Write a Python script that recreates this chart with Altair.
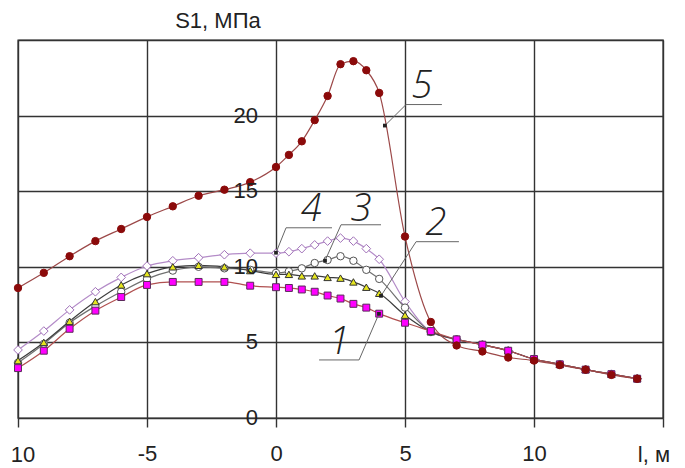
import altair as alt
import pandas as pd

# ---- data ----
x_pos = [-10, -9, -8, -7, -6, -5, -4, -3, -2, -1, 0, 0.5, 1, 1.5, 2, 2.5, 3, 3.5, 4,
         5, 6, 7, 8, 9, 10, 11, 12, 13, 14]
s1 = [3.3, 4.45, 5.9, 7.1, 8.0, 8.8, 9.0, 9.0, 9.0, 8.75, 8.65, 8.6, 8.5, 8.35, 8.1, 7.9, 7.55, 7.3, 6.9,
      6.3, 5.75, 5.2, 4.85, 4.45, 3.9, 3.55, 3.2, 2.9, 2.6]
s2 = [3.8, 5.0, 6.4, 7.7, 8.8, 9.55, 10.0, 10.1, 10.0, 9.75, 9.5, 9.5, 9.4, 9.4, 9.3, 9.25, 9.0, 8.65, 8.25,
      6.8, 5.7, 5.2, 4.85, 4.45, 3.9, 3.55, 3.2, 2.9, 2.6]
s3 = [3.65, 4.9, 6.3, 7.4, 8.35, 9.2, 9.75, 10.0, 9.9, 9.8, 9.6, 9.7, 9.9, 10.25, 10.45, 10.7, 10.4, 9.8, 9.2,
      7.3, 5.7, 5.2, 4.85, 4.45, 3.9, 3.55, 3.2, 2.9, 2.6]
s4 = [4.5, 5.75, 7.15, 8.35, 9.3, 10.05, 10.4, 10.6, 10.8, 10.9, 10.9, 11.0, 11.2, 11.45, 11.7, 11.9, 11.7, 11.2, 10.5,
      7.7, 5.7, 5.2, 4.85, 4.45, 3.9, 3.55, 3.2, 2.9, 2.6]
s5 = [8.6, 9.6, 10.7, 11.7, 12.5, 13.3, 14.0, 14.7, 15.1, 15.6, 16.6, 17.4, 18.3, 19.7, 21.3, 23.4, 23.6, 23.0, 21.5,
      12.0, 6.35, 4.8, 4.4, 4.0, 3.8, 3.5, 3.2, 2.85, 2.6]

x_ticks = [-10, -5, 0, 5, 10, 15]
y_ticks = [0, 5, 10, 15, 20, 25]
y_labels = [0, 5, 10, 15, 20]

# callout labels: name, text position, corner of leader, end of underline, point on curve
callout_names = ["5", "4", "3", "2", "1"]
callout_tx = [5.66, 1.36, 3.29, 6.2, 2.45]
callout_ty = [21.9, 13.75, 13.75, 12.8, 4.95]
corner_x = [5.04, 0.39, 2.52, 5.43, 3.22]
corner_y = [20.73, 12.58, 12.78, 11.66, 3.84]
under_x = [6.43, 2.17, 4.07, 7.09, 1.67]
under_y = [20.73, 12.58, 12.78, 11.66, 3.84]
point_x = [4.22, 0.0, 1.9, 4.07, 3.99]
point_y = [19.34, 10.93, 10.4, 8.08, 6.89]

# ---- encodings ----
xscale = alt.Scale(domain=[-10, 15], nice=False, zero=False)
yscale = alt.Scale(domain=[0, 25], nice=False, zero=False)

x_axis = alt.Axis(values=x_ticks, grid=True, gridColor="#333333", gridWidth=1.4, gridOpacity=1,
                  domain=False, ticks=True, tickSize=9, tickColor="#333333", tickWidth=1.4,
                  labelFont="Liberation Sans", labelFontSize=22, labelColor="#222222",
                  labelPadding=16, labelOverlap=False, labelFlush=False, labelBound=False,
                  labelExpr="datum.value == -10 || datum.value == 15 ? '' : (datum.value < 0 ? '-' + abs(datum.value) : datum.label)",
                  title=None)
y_axis = alt.Axis(values=y_ticks, grid=True, gridColor="#333333", gridWidth=1.4, gridOpacity=1,
                  domain=False, ticks=False, labels=False, title=None)

X = lambda f="x": alt.X(f"{f}:Q", scale=xscale, axis=x_axis)
Y = lambda f="y": alt.Y(f"{f}:Q", scale=yscale, axis=y_axis)

styles = [
    ("4", s4, "#b48cc8", "diamond", "#ffffff", "#a070b8", 75),
    ("3", s3, "#707070", "circle", "#ffffff", "#555555", 55),
    ("2", s2, "#3c3c3c", "triangle-up", "#e6e61e", "#333333", 55),
    ("1", s1, "#b05050", "square", "#ff00ff", "#5a2a5a", 48),
    ("5", s5, "#9c4848", "circle", "#8b0a0a", "#8b0a0a", 55),
]

lines = []
points = []
for name, vals, lc, shape, fill, stroke, size in styles:
    df = pd.DataFrame({"x": x_pos, "y": vals})
    lines.append(alt.Chart(df).mark_line(interpolate="monotone", color=lc, strokeWidth=1.2)
                 .encode(x=X(), y=Y()))
    points.append(alt.Chart(df).mark_point(shape=shape, filled=True, fill=fill, stroke=stroke,
                                           strokeWidth=1, size=size, opacity=1)
                  .encode(x=X(), y=Y()))

# leader lines
rows = []
for i, n in enumerate(callout_names):
    rows += [{"id": n, "o": 0, "x": point_x[i], "y": point_y[i]},
             {"id": n, "o": 1, "x": corner_x[i], "y": corner_y[i]},
             {"id": n, "o": 2, "x": under_x[i], "y": under_y[i]}]
lead_df = pd.DataFrame(rows)
leaders = alt.Chart(lead_df).mark_line(color="#666666", strokeWidth=1).encode(
    x=X(), y=Y(), detail="id:N", order="o:Q")

dot_df = pd.DataFrame({"x": point_x, "y": point_y})
dots = alt.Chart(dot_df).mark_point(shape="square", filled=True, color="#222222", size=14, opacity=1).encode(
    x=X(), y=Y())

lab_df = pd.DataFrame({"t": callout_names, "x": callout_tx, "y": callout_ty})
callouts = alt.Chart(lab_df).mark_text(font="Open Sans", fontStyle="italic", fontWeight=300, fontSize=38,
                                       color="#222222", baseline="middle", align="center").encode(
    x=X(), y=Y(), text="t:N")

# y tick labels drawn at x = 0
ylab_df = pd.DataFrame({"x": [0] * len(y_labels), "y": y_labels, "t": [str(v) for v in y_labels]})
ylabels = alt.Chart(ylab_df).mark_text(font="Liberation Sans", fontSize=22, color="#222222",
                                       align="right", baseline="middle", dx=-18).encode(
    x=X(), y=Y(), text="t:N")

title_df = pd.DataFrame({"x": [-2.25], "y": [25], "t": ["S1, МПа"]})
ytitle = alt.Chart(title_df).mark_text(font="Liberation Sans", fontSize=22, color="#222222",
                                       align="center", baseline="middle", dy=-19).encode(
    x=X(), y=Y(), text="t:N")

# x-axis end texts: left label (its minus sign is cut off in the reference) and the axis title
xt_df = pd.DataFrame({"x": [-10, 14.65], "y": [0, 0], "t": ["10", "l, м"], "dx": [5, 0]})
xtitle_l = alt.Chart(xt_df.iloc[[0]]).mark_text(font="Liberation Sans", fontSize=22, color="#222222",
                                                align="center", baseline="middle", dy=37, dx=5).encode(
    x=X(), y=Y(), text="t:N")
xtitle_r = alt.Chart(xt_df.iloc[[1]]).mark_text(font="Liberation Sans", fontSize=22, color="#222222",
                                                align="center", baseline="middle", dy=37).encode(
    x=X(), y=Y(), text="t:N")

chart = alt.layer(*lines, *points, leaders, dots, callouts, ylabels, ytitle, xtitle_l, xtitle_r).properties(
    width=645, height=378,
    padding={"left": 10, "top": 32, "right": 14, "bottom": 50},
    autosize=alt.AutoSizeParams(type="none"),
    background="white",
).configure_view(stroke="#333333", strokeWidth=1.4)

chart.save("out.html", embed_options={"renderer": "svg", "actions": False})
